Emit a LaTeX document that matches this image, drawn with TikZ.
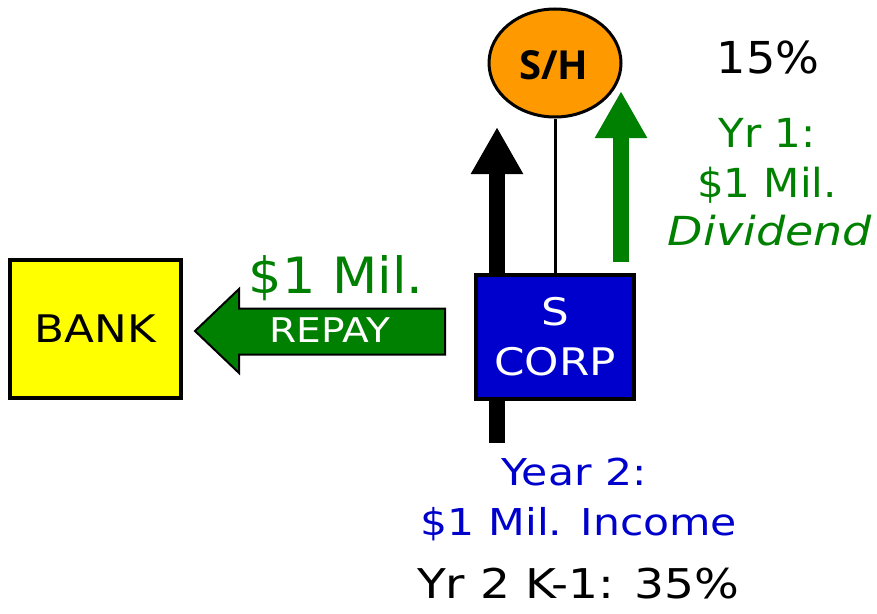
\documentclass[tikz,border=0pt]{standalone}
\usepackage{fontspec}
\setmainfont[FakeStretch=1.15]{DejaVu Sans}
\newfontfamily\plainfont[FakeStretch=1.05]{DejaVu Sans}
\newfontfamily\boldfont{Open Sans Bold}
\usetikzlibrary{arrows.meta,shapes.geometric}
\definecolor{dgreen}{RGB}{0,128,0}
\definecolor{dblue}{RGB}{0,0,204}
\definecolor{sorange}{RGB}{255,153,0}
\definecolor{pyellow}{RGB}{255,255,0}
\tikzset{
  fs/.style={font=\fontsize{#1}{#1}\selectfont},
  lbl/.style={anchor=base, inner sep=0pt},
  bigarrow/.style={line width=16pt, -{Triangle[length=47pt,width=49pt]}},
}
\begin{document}
\begin{tikzpicture}[x=1pt,y=-1pt]
\useasboundingbox (0,0) rectangle (877,613);
% black arrow (behind the box)
\coordinate (blackstart) at (497,443);
\coordinate (blackend) at (497,127);
\draw[bigarrow, black] (blackstart) -- (blackend);
% shareholder
\node[ellipse, draw=black, line width=3pt, fill=sorange, minimum width=132pt, minimum height=108pt, inner sep=0pt]
  (sh) at (555,63) {};
\node[lbl, font=\boldfont\fontsize{40}{40}\selectfont] (shtext) at (554,79) {S/H};
% S corp
\node[draw=black, line width=4pt, fill=dblue, minimum width=158pt, minimum height=124pt, inner sep=0pt,
      text=white, align=center, font=\fontsize{38}{50}\selectfont] (scorp) at (555,337) {S\\CORP};
\draw[line width=3pt] (sh.south) -- (scorp.north);
% bank
\node[draw=black, line width=4pt, fill=pyellow, minimum width=171pt, minimum height=138pt, inner sep=0pt,
      font=\fontsize{38}{38}\selectfont] (bank) at (95.5,329) {BANK};
% green dividend arrow
\coordinate (divstart) at (621,262);
\coordinate (divend) at (621,91);
\draw[bigarrow, dgreen] (divstart) -- (divend);
% repay arrow
\draw[fill=dgreen, draw=black, line width=2pt, line join=miter]
  (445,308.5) -- (239,308.5) -- (239,289) -- (195,331) -- (239,373) -- (239,354.5) -- (445,354.5) -- cycle;
\node[lbl, text=white, fs=34] (repay) at (330,342) {REPAY};
\node[lbl, text=dgreen, font=\plainfont\fontsize{50}{50}\selectfont] (repayamt) at (336,293) {\$1 Mil.};
% right texts
\node[lbl, font=\plainfont\fontsize{44}{44}\selectfont] (pct) at (768,73) {15\%};
\node[lbl, text=dgreen, font=\plainfont\fontsize{40}{40}\selectfont] (yr1) at (767,147) {Yr 1:};
\node[lbl, text=dgreen, font=\plainfont\fontsize{40}{40}\selectfont] (divamt) at (767,197) {\$1 Mil.};
\node[lbl, text=dgreen, font=\itshape\fontsize{40}{40}\selectfont] (div) at (770,245) {Dividend};
% bottom texts
\node[lbl, text=dblue, fs=37] (year2) at (574,485) {Year 2:};
\node[lbl, text=dblue, fs=37] (income) at (579,535) {\$1 Mil. Income};
\node[lbl, fs=41] (k1) at (578,598) {Yr 2 K-1: 35\%};
\end{tikzpicture}
\end{document}
